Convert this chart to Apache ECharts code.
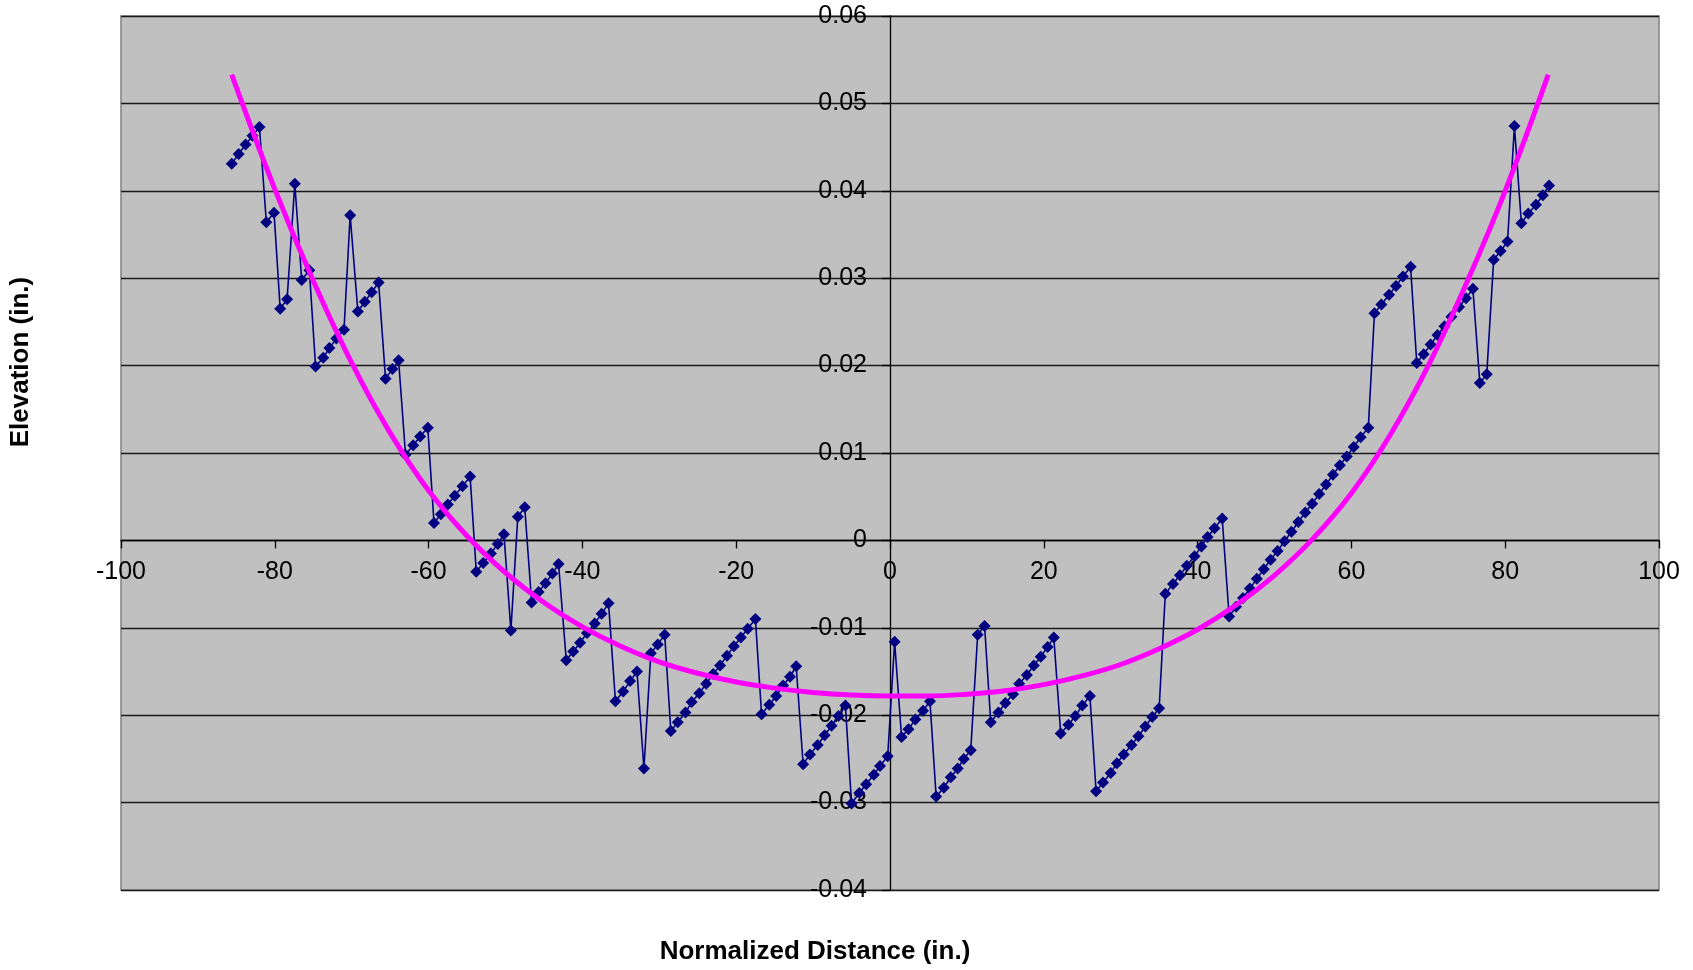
<!DOCTYPE html>
<html>
<head>
<meta charset="utf-8">
<script src="https://cdn.jsdelivr.net/npm/echarts@6/dist/echarts.min.js"></script>
<style>
html,body{margin:0;padding:0;background:#fff;}
#chart{width:1693px;height:970px;}
</style>
</head>
<body>
<div id="chart"></div>
<script>
// Measured profile: normalized distance (in.) and elevation (in.)
var distance = [
-85.6,-84.7,-83.8,-82.9,-82.0,-81.1,-80.1,-79.3,-78.4,-77.4,
-76.5,-75.5,-74.7,-73.7,-72.9,-72.0,-71.0,-70.2,-69.2,-68.3,
-67.4,-66.5,-65.6,-64.7,-63.9,-63.0,-62.0,-61.1,-60.1,-59.3,
-58.4,-57.5,-56.6,-55.6,-54.6,-53.8,-52.9,-51.9,-51.0,-50.2,
-49.3,-48.4,-47.5,-46.6,-45.7,-44.8,-43.9,-43.1,-42.1,-41.2,
-40.3,-39.4,-38.4,-37.5,-36.6,-35.7,-34.7,-33.8,-32.9,-32.0,
-31.1,-30.2,-29.3,-28.5,-27.6,-26.6,-25.8,-24.8,-23.9,-23.0,
-22.1,-21.2,-20.3,-19.4,-18.5,-17.5,-16.7,-15.7,-14.8,-13.9,
-13.0,-12.2,-11.3,-10.4,-9.4,-8.5,-7.6,-6.7,-5.8,-5.0,
-4.0,-3.1,-2.1,-1.3,-0.3,0.6,1.5,2.4,3.3,4.3,
5.2,6.0,7.0,7.9,8.8,9.6,10.5,11.4,12.3,13.1,
14.1,15.0,16.0,16.8,17.8,18.7,19.6,20.5,21.3,22.2,
23.2,24.1,25.0,26.0,26.8,27.7,28.7,29.5,30.4,31.4,
32.3,33.2,34.1,35.0,35.8,36.8,37.7,38.6,39.6,40.5,
41.3,42.2,43.2,44.1,45.0,45.9,46.8,47.7,48.6,49.5,
50.4,51.3,52.2,53.1,54.0,54.9,55.8,56.7,57.6,58.5,
59.4,60.3,61.2,62.2,63.0,63.9,64.9,65.8,66.7,67.7,
68.5,69.4,70.3,71.2,72.1,73.0,74.0,74.9,75.8,76.7,
77.6,78.5,79.4,80.3,81.2,82.1,83.0,84.0,84.9,85.7
];
var elevation = [
0.0431,0.0442,0.0453,0.0463,0.0473,0.0364,0.0375,0.0265,0.0276,0.0408,
0.0298,0.0309,0.0199,0.0209,0.0220,0.0231,0.0241,0.0372,0.0262,0.0273,
0.0284,0.0295,0.0185,0.0196,0.0206,0.0098,0.0109,0.0119,0.0129,0.0020,
0.0030,0.0041,0.0051,0.0062,0.0073,-0.0036,-0.0026,-0.0015,-0.0004,0.0007,
-0.0103,0.0027,0.0038,-0.0071,-0.0059,-0.0049,-0.0038,-0.0027,-0.0137,-0.0127,
-0.0117,-0.0106,-0.0095,-0.0084,-0.0072,-0.0184,-0.0173,-0.0161,-0.0150,-0.0261,
-0.0129,-0.0119,-0.0108,-0.0218,-0.0208,-0.0197,-0.0185,-0.0175,-0.0164,-0.0153,
-0.0143,-0.0132,-0.0121,-0.0111,-0.0101,-0.0090,-0.0199,-0.0188,-0.0178,-0.0166,
-0.0156,-0.0144,-0.0256,-0.0245,-0.0234,-0.0223,-0.0212,-0.0201,-0.0189,-0.0301,
-0.0289,-0.0279,-0.0268,-0.0258,-0.0247,-0.0116,-0.0225,-0.0216,-0.0205,-0.0195,
-0.0184,-0.0293,-0.0283,-0.0271,-0.0261,-0.0250,-0.0240,-0.0108,-0.0098,-0.0208,
-0.0197,-0.0186,-0.0176,-0.0164,-0.0154,-0.0143,-0.0133,-0.0122,-0.0111,-0.0221,
-0.0211,-0.0201,-0.0189,-0.0178,-0.0287,-0.0277,-0.0266,-0.0255,-0.0245,-0.0234,
-0.0224,-0.0213,-0.0202,-0.0192,-0.0061,-0.0050,-0.0040,-0.0029,-0.0018,-0.0007,
0.0004,0.0014,0.0025,-0.0087,-0.0076,-0.0066,-0.0055,-0.0044,-0.0033,-0.0022,
-0.0012,-0.0001,0.0010,0.0021,0.0032,0.0042,0.0053,0.0064,0.0075,0.0086,
0.0096,0.0107,0.0118,0.0129,0.0260,0.0270,0.0281,0.0291,0.0302,0.0313,
0.0203,0.0213,0.0224,0.0235,0.0245,0.0256,0.0267,0.0277,0.0288,0.0180,
0.0190,0.0321,0.0331,0.0342,0.0474,0.0363,0.0374,0.0384,0.0395,0.0406
];
// Fitted trend curve
var fitX = [-85.6,-80,-75,-70,-65,-60,-55,-50,-45,-40,-35,-30,-25,-20,-15,-10,-5,0,5,10,15,20,25,30,35,40,45,50,55,60,65,70,75,80,85.6];
var fitY = [0.0533,0.0402,0.0297,0.0203,0.0123,0.0057,0.0005,-0.0037,-0.0071,-0.0099,-0.0121,-0.0139,-0.0152,-0.0162,-0.0169,-0.0174,-0.0177,-0.0178,-0.0178,-0.0176,-0.0172,-0.0165,-0.0155,-0.0142,-0.0124,-0.0102,-0.0074,-0.0040,0.0002,0.0054,0.0120,0.0200,0.0295,0.0400,0.0533];
var xTicks = {min:-100, max:100, interval:20};
var yTicks = {min:-0.04, max:0.06, interval:0.01};
var xTitle = 'Normalized Distance (in.)';
var yTitle = 'Elevation (in.)';

var FONT = '"Liberation Sans", Arial, Helvetica, sans-serif';
var measured = distance.map(function(x,i){return [x, elevation[i]];});
var fit = fitX.map(function(x,i){return [x, fitY[i]];});

var G = {left:121, right:34, top:16, bottom:80};
var W = 1693, H = 970;
var plotW = W - G.left - G.right, plotH = H - G.top - G.bottom;
// distance from grid edge to the zero lines (axes cross at 0,0 as in the original)
var xAxisShift = plotH * (0 - yTicks.min) / (yTicks.max - yTicks.min);
var yAxisShift = plotW * (0 - xTicks.min) / (xTicks.max - xTicks.min);

var chart = echarts.init(document.getElementById('chart'), null, {renderer:'canvas'});
chart.setOption({
  animation:false,
  backgroundColor:'#ffffff',
  grid:{left:G.left, right:G.right, top:G.top, bottom:G.bottom, show:true, backgroundColor:'#C0C0C0', borderColor:'#808080', borderWidth:1.5},
  xAxis:{
    type:'value', min:xTicks.min, max:xTicks.max, interval:xTicks.interval,
    offset:-xAxisShift,
    axisLine:{onZero:false, lineStyle:{color:'#000', width:1.3}},
    axisTick:{show:true, length:8, lineStyle:{color:'#000', width:1.3}},
    axisLabel:{color:'#000', fontFamily:FONT, fontSize:25, margin:19},
    splitLine:{show:false}
  },
  yAxis:{
    type:'value', min:yTicks.min, max:yTicks.max, interval:yTicks.interval,
    offset:-yAxisShift,
    axisLine:{onZero:false, lineStyle:{color:'#000', width:1.3}},
    axisTick:{show:true, length:8, lineStyle:{color:'#000', width:1.3}},
    axisLabel:{color:'#000', fontFamily:FONT, fontSize:25, margin:23,
      formatter:function(v){return String(Number(v.toFixed(2)));}},
    splitLine:{show:true, lineStyle:{color:'#1a1a1a', width:1.3}}
  },
  series:[
    {
      type:'line', data:measured, symbol:'diamond', symbolSize:12,
      itemStyle:{color:'#000080'}, lineStyle:{color:'#000080', width:1.6},
      z:2
    },
    {
      type:'line', data:fit, smooth:0.4, showSymbol:false, symbol:'none',
      lineStyle:{color:'#FF00FF', width:5}, itemStyle:{color:'#FF00FF'},
      z:3
    }
  ],
  graphic:[
    {type:'text', x:815, y:952, style:{text:xTitle, font:'bold 26px '+FONT, fill:'#000', textAlign:'center', textVerticalAlign:'middle'}},
    {type:'text', x:21, y:362, rotation:Math.PI/2, style:{text:yTitle, font:'bold 26px '+FONT, fill:'#000', textAlign:'center', textVerticalAlign:'middle'}}
  ]
});
</script>
</body>
</html>
